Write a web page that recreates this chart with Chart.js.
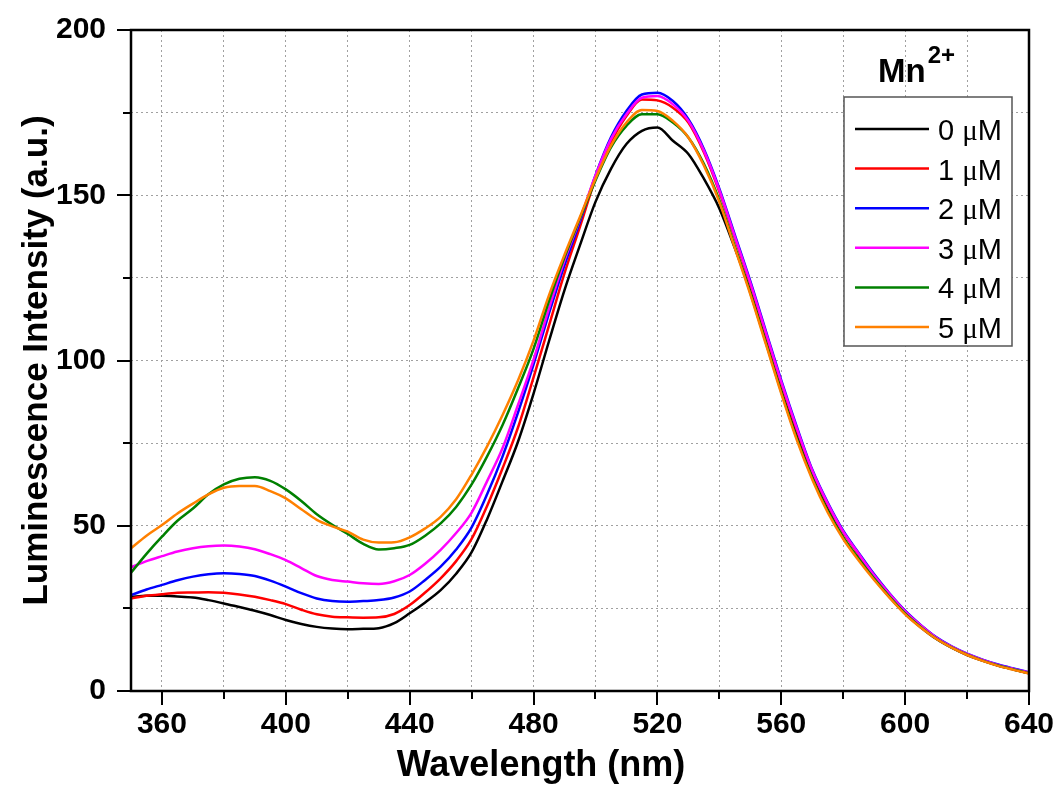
<!DOCTYPE html>
<html>
<head>
<meta charset="utf-8">
<script src="https://cdn.jsdelivr.net/npm/chart.js@4.4.1/dist/chart.umd.min.js"></script>
<style>
  html, body { margin: 0; padding: 0; background: #fff; }
</style>
</head>
<body>
<canvas id="chart" width="1059" height="787"></canvas>
<script>
// ---- data (step 5 nm) ----
const wavelengths = [350,355,360,365,370,375,380,385,390,395,400,405,410,415,420,425,430,435,440,445,
  450,455,460,465,470,475,480,485,490,495,500,505,510,515,520,525,530,535,540,545,
  550,555,560,565,570,575,580,585,590,595,600,605,610,615,620,625,630,635,640];

const mn0 = [28.5,28.8,28.8,28.6,28.3,27.5,26.5,25.4,24.3,23.0,21.5,20.3,19.4,18.9,18.7,18.8,19.0,20.5,23.5,26.8,
  30.5,35.5,42.0,52.0,63.5,75.5,90.0,105.9,121.3,134.9,148.0,158.0,165.5,169.5,170.5,166.5,162.5,155.0,146.0,134.0,
  121.0,106.0,91.0,77.5,65.0,55.0,46.5,40.0,34.0,28.4,23.4,19.3,15.8,13.1,10.9,9.2,7.7,6.5,5.4];
const mn1 = [28.0,28.8,29.3,29.7,29.8,29.9,29.7,29.2,28.5,27.5,26.3,24.6,23.2,22.5,22.3,22.2,22.3,23.3,26.0,29.8,
  34.1,39.3,46.0,56.0,67.4,79.8,94.9,110.6,126.4,140.5,155.0,166.0,174.0,179.0,178.7,176.5,172.0,163.0,151.0,137.0,
  123.0,108.0,93.0,79.0,66.4,56.4,48.0,41.3,34.9,29.2,24.0,19.8,16.1,13.3,11.1,9.3,7.8,6.6,5.5];
const mn2 = [29.0,30.7,32.1,33.5,34.6,35.3,35.6,35.4,34.8,33.4,31.6,29.6,28.0,27.2,27.0,27.2,27.5,28.3,30.1,33.6,
  37.6,42.8,49.5,59.5,71.0,84.3,98.8,114.3,128.9,142.0,156.0,167.5,175.5,180.5,181.0,178.5,173.0,164.0,152.0,138.0,
  124.0,109.0,94.0,80.0,67.0,57.0,48.5,41.8,35.3,29.5,24.3,20.0,16.3,13.5,11.3,9.5,8.0,6.8,5.7];
const mn3 = [37.4,39.3,40.8,42.2,43.2,43.8,44.0,43.7,42.9,41.4,39.6,37.2,34.8,33.6,33.1,32.6,32.4,33.2,35.1,38.5,
  42.7,47.8,54.0,63.5,73.5,86.6,100.3,115.8,130.3,142.8,156.0,167.0,174.5,179.5,180.0,177.5,172.5,163.5,151.5,137.5,
  123.5,108.5,93.5,79.5,66.7,56.7,48.2,41.5,35.0,29.3,24.1,19.9,16.2,13.4,11.2,9.4,7.9,6.7,5.6];
const mn4 = [35.8,41.5,46.7,51.5,55.2,59.5,62.5,64.2,64.7,63.6,61.0,57.5,53.5,50.3,47.5,44.5,42.8,43.2,44.2,47.0,
  50.7,55.7,62.5,71.0,80.5,91.6,103.5,118.0,131.2,143.0,154.5,164.5,171.0,174.5,174.5,172.0,167.5,159.5,148.5,134.5,
  120.5,105.5,90.5,76.5,64.5,54.5,46.5,40.0,34.0,28.5,23.5,19.4,15.9,13.2,11.0,9.2,7.7,6.5,5.4];
const mn5 = [43.2,47.0,50.2,53.7,56.7,59.5,61.5,62.0,62.0,60.5,58.3,55.0,51.8,49.8,48.2,45.8,44.9,45.0,46.5,49.2,
  52.7,58.0,65.5,74.0,83.5,94.0,106.0,119.8,132.0,143.5,155.0,165.0,172.0,175.8,175.5,172.5,167.5,159.0,148.0,134.0,
  120.0,105.0,90.0,76.0,64.0,54.0,46.0,39.5,33.6,28.2,23.2,19.2,15.8,13.1,10.9,9.1,7.6,6.4,5.3];

const seriesLabels = ['0', '1', '2', '3', '4', '5'];
const seriesValues = [mn0, mn1, mn2, mn3, mn4, mn5];
const seriesColors = ['#000000', '#ff0000', '#0000ff', '#ff00ff', '#008000', '#ff8000'];

const xGridTicks = [360,380,400,420,440,460,480,500,520,540,560,580,600,620,640];
const yGridTicks = [0,25,50,75,100,125,150,175,200];

const SANS = "'Liberation Sans', Arial, sans-serif";
const SERIF = "'Liberation Serif', 'Times New Roman', serif";

// frame, outward ticks, x title and the legend box
const framePlugin = {
  id: 'framePlugin',
  afterDraw(chart) {
    const { ctx, chartArea: a, scales: { x, y } } = chart;
    ctx.save();
    ctx.setLineDash([]);
    ctx.strokeStyle = '#000';
    ctx.lineWidth = 2;
    ctx.beginPath();
    x.ticks.forEach(t => {
      const px = Math.round(x.getPixelForValue(t.value));
      const len = t.value % 40 === 0 ? 14 : 8;
      ctx.moveTo(px, a.bottom); ctx.lineTo(px, a.bottom + len);
    });
    y.ticks.forEach(t => {
      const py = Math.round(y.getPixelForValue(t.value));
      const len = t.value % 50 === 0 ? 14 : 8;
      ctx.moveTo(a.left, py); ctx.lineTo(a.left - len, py);
    });
    ctx.stroke();

    ctx.lineWidth = 2.5;
    ctx.strokeRect(a.left, a.top, a.right - a.left, a.bottom - a.top);

    // x axis title
    ctx.fillStyle = '#000';
    ctx.font = 'bold 36px ' + SANS;
    ctx.textAlign = 'center';
    ctx.textBaseline = 'alphabetic';
    ctx.fillText('Wavelength (nm)', 541, 776);

    // legend title Mn2+
    ctx.textAlign = 'left';
    ctx.font = 'bold 33px ' + SANS;
    ctx.fillText('Mn', 878, 82);
    const mnW = ctx.measureText('Mn').width;
    ctx.font = 'bold 24px ' + SANS;
    ctx.fillText('2+', 878 + mnW + 2, 63);

    // legend box
    const bx = 844, by = 97, bw = 168, bh = 249;
    ctx.fillStyle = '#fff';
    ctx.fillRect(bx, by, bw, bh);
    ctx.strokeStyle = '#555';
    ctx.lineWidth = 1.5;
    ctx.strokeRect(bx, by, bw, bh);

    chart.data.datasets.forEach((ds, i) => {
      const yc = 129 + i * 39.6;
      ctx.strokeStyle = ds.borderColor;
      ctx.lineWidth = 2.5;
      ctx.beginPath();
      ctx.moveTo(855, yc); ctx.lineTo(929, yc);
      ctx.stroke();
      ctx.fillStyle = '#000';
      let tx = 938;
      ctx.font = '29px ' + SANS;
      const num = seriesLabels[i] + ' ';
      ctx.fillText(num, tx, yc + 11);
      tx += ctx.measureText(num).width;
      ctx.font = '29px ' + SERIF;
      ctx.fillText('\u03bc', tx, yc + 11);
      tx += ctx.measureText('\u03bc').width;
      ctx.font = '29px ' + SANS;
      ctx.fillText('M', tx, yc + 11);
    });
    ctx.restore();
  }
};

const datasets = seriesValues.map((vals, i) => ({
  label: seriesLabels[i] + ' \u03bcM',
  data: wavelengths.map((w, j) => ({ x: w, y: vals[j] })),
  borderColor: seriesColors[i],
  backgroundColor: seriesColors[i],
  borderWidth: 2.5,
  pointRadius: 0,
  fill: false,
  cubicInterpolationMode: 'monotone',
  order: 5 - i
}));

new Chart(document.getElementById('chart'), {
  type: 'line',
  data: { datasets },
  options: {
    responsive: false,
    animation: false,
    devicePixelRatio: 1,
    layout: { padding: { top: 30, right: 30, left: 0, bottom: 0 } },
    plugins: { legend: { display: false }, tooltip: { enabled: false } },
    scales: {
      x: {
        type: 'linear',
        min: 350,
        max: 640,
        afterBuildTicks: s => { s.ticks = xGridTicks.map(v => ({ value: v })); },
        afterFit: s => {
          s.height = 96;
          s.paddingLeft = 0; s.paddingRight = 0;
        },
        ticks: {
          callback: v => (v % 40 === 0 ? v : ''),
          font: { family: SANS, size: 30, weight: 'bold' },
          color: '#000',
          padding: 16,
          maxRotation: 0,
          autoSkip: false
        },
        grid: { color: '#a0a0a0', lineWidth: 1, drawTicks: false },
        border: { display: false, dash: [2, 3] }
      },
      y: {
        type: 'linear',
        min: 0,
        max: 200,
        afterBuildTicks: s => { s.ticks = yGridTicks.map(v => ({ value: v })); },
        afterFit: s => {
          s.width = 131;
          s.paddingTop = 0; s.paddingBottom = 0;
        },
        ticks: {
          callback: v => (v % 50 === 0 ? v : ''),
          font: { family: SANS, size: 30, weight: 'bold' },
          color: '#000',
          padding: 25,
          autoSkip: false
        },
        grid: { color: '#a0a0a0', lineWidth: 1, drawTicks: false },
        border: { display: false, dash: [2, 3] },
        title: {
          display: true,
          text: 'Luminescence Intensity (a.u.)',
          font: { family: SANS, size: 35, weight: 'bold' },
          color: '#000',
          padding: { top: 16, bottom: 0 }
        }
      }
    }
  },
  plugins: [framePlugin]
});
</script>
</body>
</html>
